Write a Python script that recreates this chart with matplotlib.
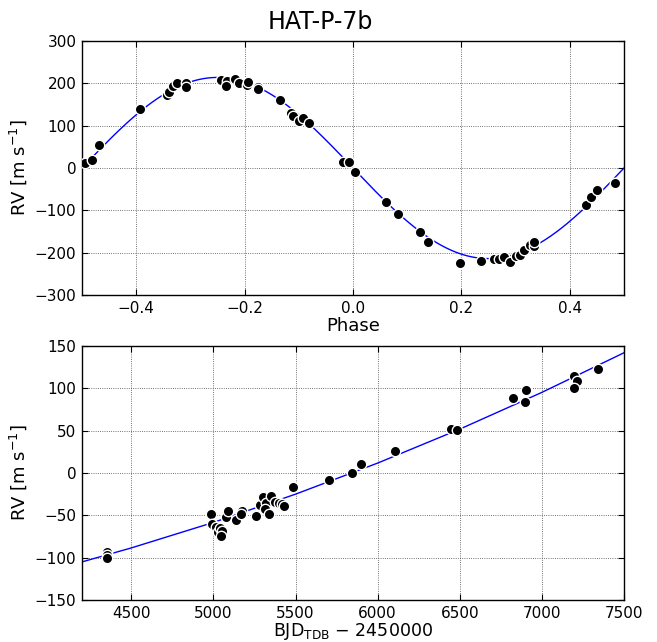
import matplotlib
matplotlib.use("Agg")
import matplotlib.pyplot as plt
import numpy as np

# --- phase-folded RVs (top panel) ---
phase = [-0.4945, -0.482, -0.468, -0.393, -0.343, -0.339, -0.332, -0.324,
         -0.308, -0.308, -0.244, -0.233, -0.234, -0.218, -0.210, -0.196,
         -0.193, -0.175, -0.175, -0.135, -0.115, -0.110, -0.099, -0.093,
         -0.082, -0.018, -0.007, 0.004, 0.061, 0.083, 0.124, 0.138, 0.197,
         0.237, 0.261, 0.270, 0.279, 0.290, 0.300, 0.309, 0.316, 0.327,
         0.333, 0.334, 0.430, 0.440, 0.451, 0.483]
rv_phase = [12, 20, 54, 139, 172, 180, 194, 200,
            200, 191, 208, 206, 194, 210, 202, 196,
            203, 191, 187, 161, 131, 123, 112, 117,
            107, 15, 15, -9, -81, -109, -151, -175, -224,
            -220, -216, -214, -210, -221, -208, -205, -194, -182,
            -185, -174, -87, -68, -52, -35]

# circular orbit model: semi-amplitude
K_model = 214.0

# --- residual RVs vs time (bottom panel) ---
bjd = [4350, 4350, 4350, 4986, 4990, 5016, 5028, 5040, 5051, 5046, 5077,
       5089, 5138, 5172, 5170, 5258, 5284, 5300, 5320, 5315, 5349, 5340,
       5375, 5402, 5415, 5432, 5487, 5706, 5842, 5899, 6108, 6447, 6482,
       6823, 6904, 6900, 7198, 7212, 7196, 7344]
rv_time = [-93, -97, -100, -48, -60, -64, -70, -65, -68, -74, -52,
           -45, -56, -45, -48, -51, -38, -28, -35, -42, -27, -48,
           -34, -36, -37, -39, -16, -8, 0, 11, 26, 52, 51,
           89, 98, 84, 114, 109, 100, 123]

# long-term trend curve
trend_bjd = [4200, 4500, 5000, 5500, 6000, 6500, 7000, 7500]
trend_rv = [-105, -88.5, -58.4, -25.0, 11.7, 51.8, 95.2, 142]

fig = plt.figure(figsize=(6.57, 6.42), dpi=100)
ax1 = fig.add_axes([0.1248, 0.5405, 0.825, 0.3956])
ax2 = fig.add_axes([0.1248, 0.0654, 0.825, 0.3957])

fig.suptitle('HAT-P-7b', fontsize=17, x=0.488, y=0.985)


def style(ax):
    ax.tick_params(direction='in', top=True, right=True, length=4,
                   width=0.8, labelsize=11, pad=4)
    ax.grid(True, color='#444444', linestyle=':', linewidth=0.6)
    for s in ax.spines.values():
        s.set_linewidth(1.0)


ph = np.linspace(-0.5, 0.5, 400)
ax1.plot(ph, -K_model * np.sin(2 * np.pi * ph), color='blue',
         linewidth=1.0, zorder=2)
ax1.errorbar(phase, rv_phase, yerr=5, fmt='o', color='black', ms=7.5,
             mec='white', mew=1.0, ecolor='#bbbbbb', elinewidth=0.8,
             capsize=0, zorder=3)
ax1.set_xlim(-0.5, 0.5)
ax1.set_ylim(-300, 300)
ax1.set_xticks([-0.4, -0.2, 0.0, 0.2, 0.4])
ax1.set_yticks(np.arange(-300, 301, 100))
ax1.set_xlabel('Phase', fontsize=13, labelpad=1)
ax1.set_ylabel('RV [m s$^{-1}$]', fontsize=13)
style(ax1)

ax2.plot(trend_bjd, trend_rv, color='blue', linewidth=1.0, zorder=2)
ax2.errorbar(bjd, rv_time, yerr=6, fmt='o', color='black', ms=7.5,
             mec='white', mew=1.0, ecolor='#bbbbbb', elinewidth=0.8,
             capsize=0, zorder=3)
ax2.set_xlim(4200, 7500)
ax2.set_ylim(-150, 150)
ax2.set_xticks(np.arange(4500, 7501, 500))
ax2.set_yticks(np.arange(-150, 151, 50))
ax2.set_xlabel('BJD$_{\\mathrm{TDB}}$ $-$ 2450000', fontsize=12.5, labelpad=0)
ax2.set_ylabel('RV [m s$^{-1}$]', fontsize=13)
style(ax2)

fig.savefig('out.png', dpi=100)
